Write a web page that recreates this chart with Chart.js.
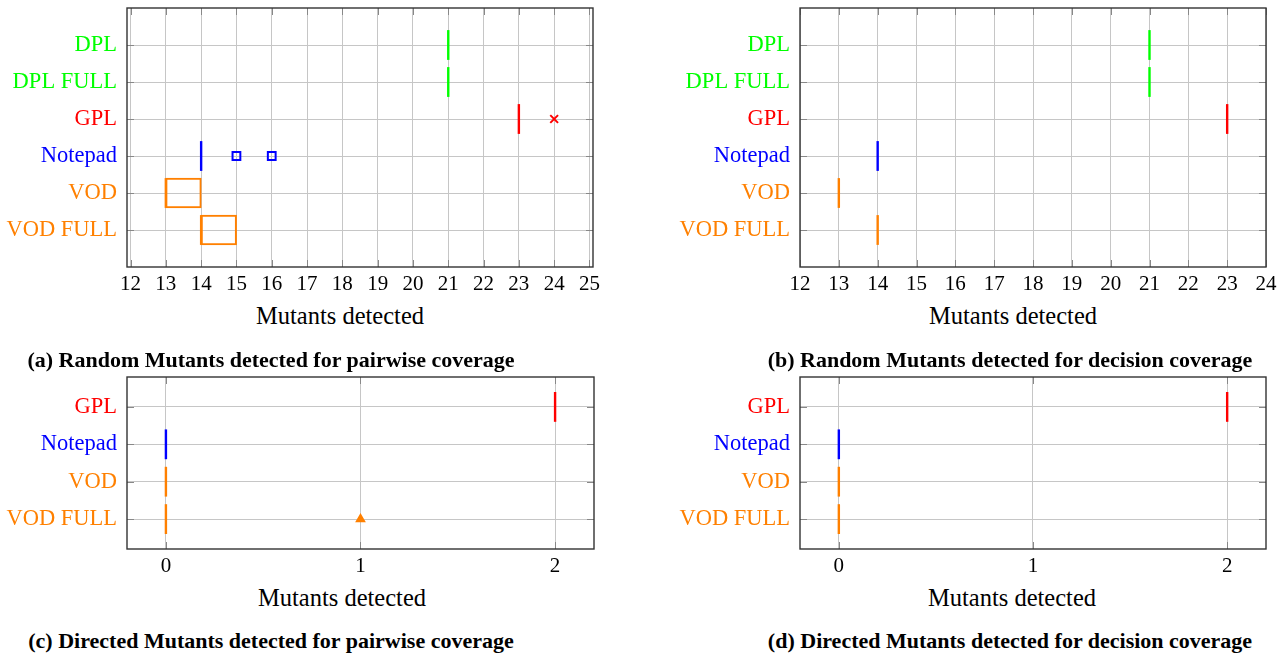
<!DOCTYPE html>
<html>
<head>
<meta charset="utf-8">
<script src="https://cdn.jsdelivr.net/npm/chart.js@4"></script>
<style>
  body { margin: 0; background: #fff; width: 1283px; height: 655px; position: relative; overflow: hidden; font-family: "Liberation Serif", serif; }
  .plot { position: absolute; }
  .xlabel { position: absolute; width: 300px; text-align: center; font-size: 24.5px; line-height: 1; color: #000; }
  .caption { position: absolute; width: 640px; text-align: center; font-size: 22px; font-weight: bold; line-height: 1; color: #000; }
</style>
</head>
<body>
<div class="plot" style="left:0;top:0;width:640px;height:300px"><canvas id="chartA"></canvas></div>
<div class="plot" style="left:660px;top:0;width:623px;height:300px"><canvas id="chartB"></canvas></div>
<div class="plot" style="left:0;top:369px;width:640px;height:213px"><canvas id="chartC"></canvas></div>
<div class="plot" style="left:660px;top:369px;width:623px;height:213px"><canvas id="chartD"></canvas></div>

<div class="xlabel" style="left:190px;top:304px">Mutants detected</div>
<div class="xlabel" style="left:863px;top:304px">Mutants detected</div>
<div class="xlabel" style="left:192px;top:586px">Mutants detected</div>
<div class="xlabel" style="left:862px;top:586px">Mutants detected</div>

<div class="caption" style="left:-49px;top:349px">(a) Random Mutants detected for pairwise coverage</div>
<div class="caption" style="left:690px;top:349px">(b) Random Mutants detected for decision coverage</div>
<div class="caption" style="left:-49px;top:630px">(c) Directed Mutants detected for pairwise coverage</div>
<div class="caption" style="left:690px;top:630px">(d) Directed Mutants detected for decision coverage</div>

<script>
// categories, top to bottom
const randomApps = ['DPL', 'DPL FULL', 'GPL', 'Notepad', 'VOD', 'VOD FULL'];
const directedApps = ['GPL', 'Notepad', 'VOD', 'VOD FULL'];

// (a) random mutants, pairwise coverage
const pairLow = [21, 21, 23, 14, 13, 14];
const pairMedian = [21, 21, 23, 14, 13, 14];
const pairHigh = [21, 21, 23, 14, 14, 15];
const pairOutliers = [[], [], [24], [15, 16], [], []];
const pairTicks = [12, 13, 14, 15, 16, 17, 18, 19, 20, 21, 22, 23, 24, 25];

// (b) random mutants, decision coverage
const decLow = [21, 21, 23, 14, 13, 14];
const decMedian = [21, 21, 23, 14, 13, 14];
const decHigh = [21, 21, 23, 14, 13, 14];
const decOutliers = [[], [], [], [], [], []];
const decTicks = [12, 13, 14, 15, 16, 17, 18, 19, 20, 21, 22, 23, 24];

// (c) directed mutants, pairwise coverage
const dirPairLow = [2, 0, 0, 0];
const dirPairMedian = [2, 0, 0, 0];
const dirPairHigh = [2, 0, 0, 0];
const dirPairOutliers = [[], [], [], [1]];

// (d) directed mutants, decision coverage
const dirDecLow = [2, 0, 0, 0];
const dirDecMedian = [2, 0, 0, 0];
const dirDecHigh = [2, 0, 0, 0];
const dirDecOutliers = [[], [], [], []];

const directedTicks = [0, 1, 2];

const appColors = {
  'DPL': '#00ff00', 'DPL FULL': '#00ff00', 'GPL': '#ff0000',
  'Notepad': '#0000ff', 'VOD': '#ff8000', 'VOD FULL': '#ff8000'
};
const outlierStyle = { 'GPL': ['crossRot', 5.5], 'Notepad': ['rect', 5.5], 'VOD FULL': ['triangle', 4.2] };

const FONT = 'Liberation Serif';
const GRID = '#c6c6c6';

// frame + inward tick marks, like pgfplots
const framePlugin = {
  id: 'frame',
  afterDraw(chart) {
    const { ctx, chartArea: a, scales } = chart;
    ctx.save();
    ctx.strokeStyle = '#888';
    ctx.lineWidth = 1;
    ctx.beginPath();
    scales.y.ticks.forEach(t => {
      const py = Math.round(scales.y.getPixelForValue(t.value)) + 0.5;
      ctx.moveTo(a.left, py); ctx.lineTo(a.left + 7, py);
      ctx.moveTo(a.right - 7, py); ctx.lineTo(a.right, py);
    });
    scales.x.ticks.forEach(t => {
      const px = Math.round(scales.x.getPixelForValue(t.value)) + 0.5;
      ctx.moveTo(px, a.top); ctx.lineTo(px, a.top + 7);
      ctx.moveTo(px, a.bottom - 7); ctx.lineTo(px, a.bottom);
    });
    ctx.stroke();
    ctx.strokeStyle = '#333';
    ctx.lineWidth = 1.4;
    ctx.strokeRect(a.left, a.top, a.right - a.left, a.bottom - a.top);
    ctx.restore();
  }
};

function outlierOpt(ctx, k, fallback) {
  return ctx.raw ? outlierStyle[ctx.raw.app][k] : fallback;
}

function noPadding(s) {
  s.paddingTop = 0; s.paddingBottom = 0; s.paddingLeft = 0; s.paddingRight = 0;
}

function boxChart(id, apps, low, median, high, outliers, ticks, xMin, xMax, yMax, yMin, yAxisWidth, rightPad, axisHeight) {
  const colors = apps.map(a => appColors[a]);
  const outPoints = [];
  outliers.forEach((vals, i) => vals.forEach(v => outPoints.push({ x: v, y: i + 1, app: apps[i] })));

  return new Chart(document.getElementById(id), {
    type: 'bar',
    data: {
      datasets: [{
        type: 'bar',
        indexAxis: 'y',
        grouped: false,
        data: apps.map((a, i) => ({ y: i + 1, x: [low[i], high[i]] })),
        backgroundColor: 'rgba(0,0,0,0)',
        borderColor: colors,
        borderWidth: 1,
        borderSkipped: false,
        inflateAmount: 0.5,
        categoryPercentage: 1,
        barPercentage: 0.8
      }, {
        type: 'scatter',
        data: apps.map((a, i) => ({ x: median[i], y: i + 1 })),
        pointStyle: 'line',
        pointRotation: 90,
        pointRadius: 14.9,
        pointBorderWidth: 2.4,
        pointBorderColor: colors,
        pointBackgroundColor: colors
      }, {
        type: 'scatter',
        data: outPoints,
        pointStyle: ctx => outlierOpt(ctx, 0, 'circle'),
        pointRadius: ctx => outlierOpt(ctx, 1, 3),
        pointBorderWidth: 2,
        pointBorderColor: ctx => ctx.raw ? appColors[ctx.raw.app] : '#000',
        pointBackgroundColor: ctx => (ctx.raw && outlierStyle[ctx.raw.app][0] === 'triangle') ? appColors[ctx.raw.app] : 'rgba(0,0,0,0)'
      }]
    },
    options: {
      responsive: true,
      maintainAspectRatio: false,
      animation: false,
      events: [],
      layout: { autoPadding: false, padding: { left: 0, right: rightPad, top: 8, bottom: 0 } },
      plugins: { legend: { display: false }, tooltip: { enabled: false } },
      scales: {
        x: {
          type: 'linear',
          offset: false,
          min: xMin,
          max: xMax,
          afterBuildTicks: s => { s.ticks = ticks.map(v => ({ value: v })); },
          afterFit: s => { s.height = axisHeight; noPadding(s); },
          grid: { color: GRID, lineWidth: 1, drawTicks: false, offset: false },
          border: { display: false },
          ticks: {
            autoSkip: false, maxRotation: 0, padding: 5, color: '#000',
            font: { family: FONT, size: 21 },
            callback: v => String(v)
          }
        },
        y: {
          type: 'linear',
          offset: false,
          reverse: true,
          min: yMin,
          max: yMax,
          afterBuildTicks: s => { s.ticks = apps.map((a, i) => ({ value: i + 1 })); },
          afterFit: s => { s.width = yAxisWidth; noPadding(s); },
          grid: { color: GRID, lineWidth: 1, drawTicks: false, offset: false },
          border: { display: false },
          ticks: {
            autoSkip: false, padding: 10,
            color: ctx => appColors[apps[ctx.index]],
            font: { family: FONT, size: 22.5 },
            callback: (v, i) => apps[i]
          }
        }
      }
    },
    plugins: [framePlugin]
  });
}

boxChart('chartA', randomApps, pairLow, pairMedian, pairHigh, pairOutliers, pairTicks, 11.9, 25.1, 7, 0, 127, 47, 33);
boxChart('chartB', randomApps, decLow, decMedian, decHigh, decOutliers, decTicks, 12, 24, 7, 0, 140, 17, 33);
boxChart('chartC', directedApps, dirPairLow, dirPairMedian, dirPairHigh, dirPairOutliers, directedTicks, -0.2, 2.2, 4.8, 0.2, 127, 46, 33);
boxChart('chartD', directedApps, dirDecLow, dirDecMedian, dirDecHigh, dirDecOutliers, directedTicks, -0.2, 2.2, 4.8, 0.2, 140, 17, 33);
</script>
</body>
</html>
